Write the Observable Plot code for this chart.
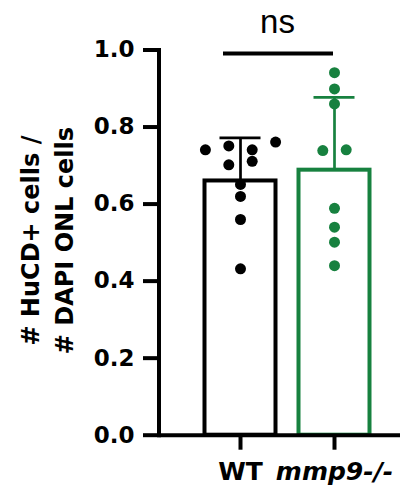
<!DOCTYPE html>
<html>
<head>
<meta charset="utf-8">
<script src="https://cdn.jsdelivr.net/npm/d3@7"></script>
<script src="https://cdn.jsdelivr.net/npm/@observablehq/plot@0.6"></script>
<style>
  html, body { margin: 0; padding: 0; background: white; }
</style>
</head>
<body>
<div id="chart"></div>
<script>
// ---- data ----
const groups = ["WT", "mmp9-/-"];
const means = [0.660, 0.688];
const uppers = [0.772, 0.877]; // mean + SD
const wtValues = [0.761, 0.751, 0.741, 0.741, 0.711, 0.702, 0.651, 0.620, 0.560, 0.432];
const wtJitter = [3, -1, -3, 1, 1, -1, 0, 0, 0, 0];
const koValues = [0.941, 0.899, 0.860, 0.741, 0.739, 0.589, 0.540, 0.501, 0.440];
const koJitter = [0, 0, 0, 1, -1, 0, 0, 0, 0];
const yTicks = [0, 0.2, 0.4, 0.6, 0.8, 1.0];
const sigLabel = "ns";
const sigY = 0.991;
const sigTextY = 1.043;
const yTitle1 = "# HuCD+ cells /";
const yTitle2 = "# DAPI ONL cells";

// ---- styling ----
const colors = ["#000000", "#17813f"];
const font = "DejaVu Sans";
const jitterStep = 11.7;

const summary = groups.map((g, i) => ({group: g, mean: means[i], upper: uppers[i]}));
const points = [
  ...wtValues.map((v, i) => ({group: groups[0], value: v, j: wtJitter[i]})),
  ...koValues.map((v, i) => ({group: groups[1], value: v, j: koJitter[i]}))
];
const jitters = Array.from(new Set(points.map(d => d.j)));

const dotMarks = jitters.map(k =>
  Plot.dot(points.filter(d => d.j === k), {
    x: "group", y: "value", fill: "group", r: 5.5, dx: k * jitterStep
  })
);

const chart = Plot.plot({
  width: 417,
  height: 489,
  marginLeft: 158.5,
  marginRight: 17,
  marginTop: 49.5,
  marginBottom: 54.3,
  style: {fontFamily: font, fontWeight: "bold", fontSize: "23px", background: "white", overflow: "visible"},
  x: {domain: groups, range: [193, 381], padding: 0},
  y: {domain: [0, 1]},
  color: {domain: groups, range: colors},
  marks: [
    Plot.barY(summary, {x: "group", y: "mean", fill: "white", stroke: "group", strokeWidth: 4, insetLeft: 11.5, insetRight: 11.5}),
    ...dotMarks,
    Plot.ruleX(summary, {x: "group", y1: "mean", y2: "upper", stroke: "group", strokeWidth: 2.7}),
    Plot.tickY(summary, {x: "group", y: "upper", stroke: "group", strokeWidth: 2.7, insetLeft: 26.5, insetRight: 26.5}),
    Plot.ruleY([0], {strokeWidth: 4}),
    Plot.frame({anchor: "left", strokeWidth: 4, strokeLinecap: "square"}),
    Plot.axisY({ticks: yTicks, tickFormat: d3.format(".1f"), tickSize: 15.5, tickPadding: 9, strokeWidth: 4, fontSize: 23, fontWeight: "bold", label: null}),
    Plot.axisX({ticks: [groups[0]], tickSize: 15, tickPadding: 12, strokeWidth: 4, fontSize: 25, fontWeight: "bold", label: null}),
    Plot.axisX({ticks: [groups[1]], tickSize: 15, tickPadding: 12, strokeWidth: 4, fontSize: 25, fontWeight: "bold", fontStyle: "italic", label: null}),
    Plot.ruleY([{y: sigY, x1: groups[0], x2: groups[1]}], {y: "y", x1: "x1", x2: "x2", strokeWidth: 4, insetLeft: 30, insetRight: 48}),
    Plot.text([sigLabel], {x: () => groups[0], y: () => sigTextY, text: d => d, dx: 37, lineAnchor: "bottom", fontSize: 33, fontWeight: "normal", fontFamily: "'Liberation Sans Narrow', 'Liberation Sans', sans-serif"}),
    Plot.text([yTitle1], {frameAnchor: "left", textAnchor: "middle", text: d => d, rotate: -90, dx: 31 - 158.5, dy: -2, fontSize: 24, fontWeight: "bold"}),
    Plot.text([yTitle2], {frameAnchor: "left", textAnchor: "middle", text: d => d, rotate: -90, dx: 65 - 158.5, dy: -2, fontSize: 24, fontWeight: "bold"})
  ]
});
document.getElementById("chart").appendChild(chart);
</script>
</body>
</html>
